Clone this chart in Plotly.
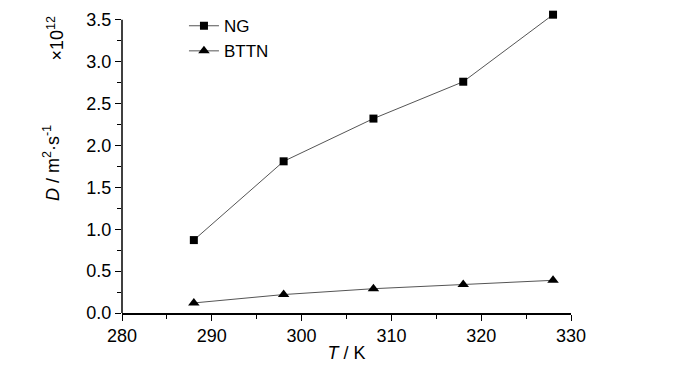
import plotly.graph_objects as go

T = [288, 298, 308, 318, 328]
ng = [0.87, 1.81, 2.32, 2.76, 3.56]
bttn = [0.12, 0.22, 0.29, 0.34, 0.39]

font = "Liberation Sans, Arial, sans-serif"
fig = go.Figure()
fig.add_trace(go.Scatter(x=T, y=ng, mode="lines+markers", name="NG",
                         line=dict(color="#555555", width=1),
                         marker=dict(symbol="square", size=8, color="black"),
                         cliponaxis=False))
fig.add_trace(go.Scatter(x=T, y=bttn, mode="lines+markers", name="BTTN",
                         line=dict(color="#555555", width=1),
                         marker=dict(symbol="triangle-up", size=10, color="black"),
                         cliponaxis=False))

fig.update_layout(
    width=700, height=373,
    margin=dict(l=122, r=129, t=8, b=60),
    paper_bgcolor="white", plot_bgcolor="white",
    font=dict(family=font, size=18, color="black"),
    showlegend=True,
    legend=dict(x=0.138, y=1.016, xanchor="left", yanchor="top",
                bgcolor="rgba(0,0,0,0)", font=dict(size=17),
                tracegroupgap=0),
    xaxis=dict(range=[280, 330], tickvals=[280, 290, 300, 310, 320, 330],
               showgrid=False, zeroline=False, showline=True, linecolor="black", linewidth=1.5,
               ticks="outside", ticklen=6, tickcolor="black",
               minor=dict(dtick=5, tick0=280, ticks="outside", ticklen=4, tickcolor="black"),
               title=dict(text="<i>T</i> / K", standoff=1, font=dict(size=18))),
    yaxis=dict(range=[0, 3.58], tickvals=[0, 0.5, 1, 1.5, 2, 2.5, 3, 3.5],
               ticktext=["0.0", "0.5", "1.0", "1.5", "2.0", "2.5", "3.0", "3.5"],
               showgrid=False, zeroline=False, showline=False,
               ticks="outside", ticklen=6, tickcolor="black",
               minor=dict(dtick=0.25, tick0=0, ticks="outside", ticklen=4, tickcolor="black"),
               title=dict(text="<i>D</i> / m<sup>2</sup>·s<sup>-1</sup>", standoff=22, font=dict(size=18))),
)
fig.add_shape(type="line", xref="paper", yref="y", x0=0, x1=0, y0=0, y1=3.5,
              line=dict(color="black", width=1.5))
fig.add_annotation(text="×10<sup>12</sup>", xref="paper", yref="paper",
                   x=-0.147, y=0.918, textangle=-90, showarrow=False,
                   font=dict(size=18), xanchor="center", yanchor="middle")

fig.write_html("out.html", config={"displayModeBar": False},
               post_script="document.body.style.margin='0';")
